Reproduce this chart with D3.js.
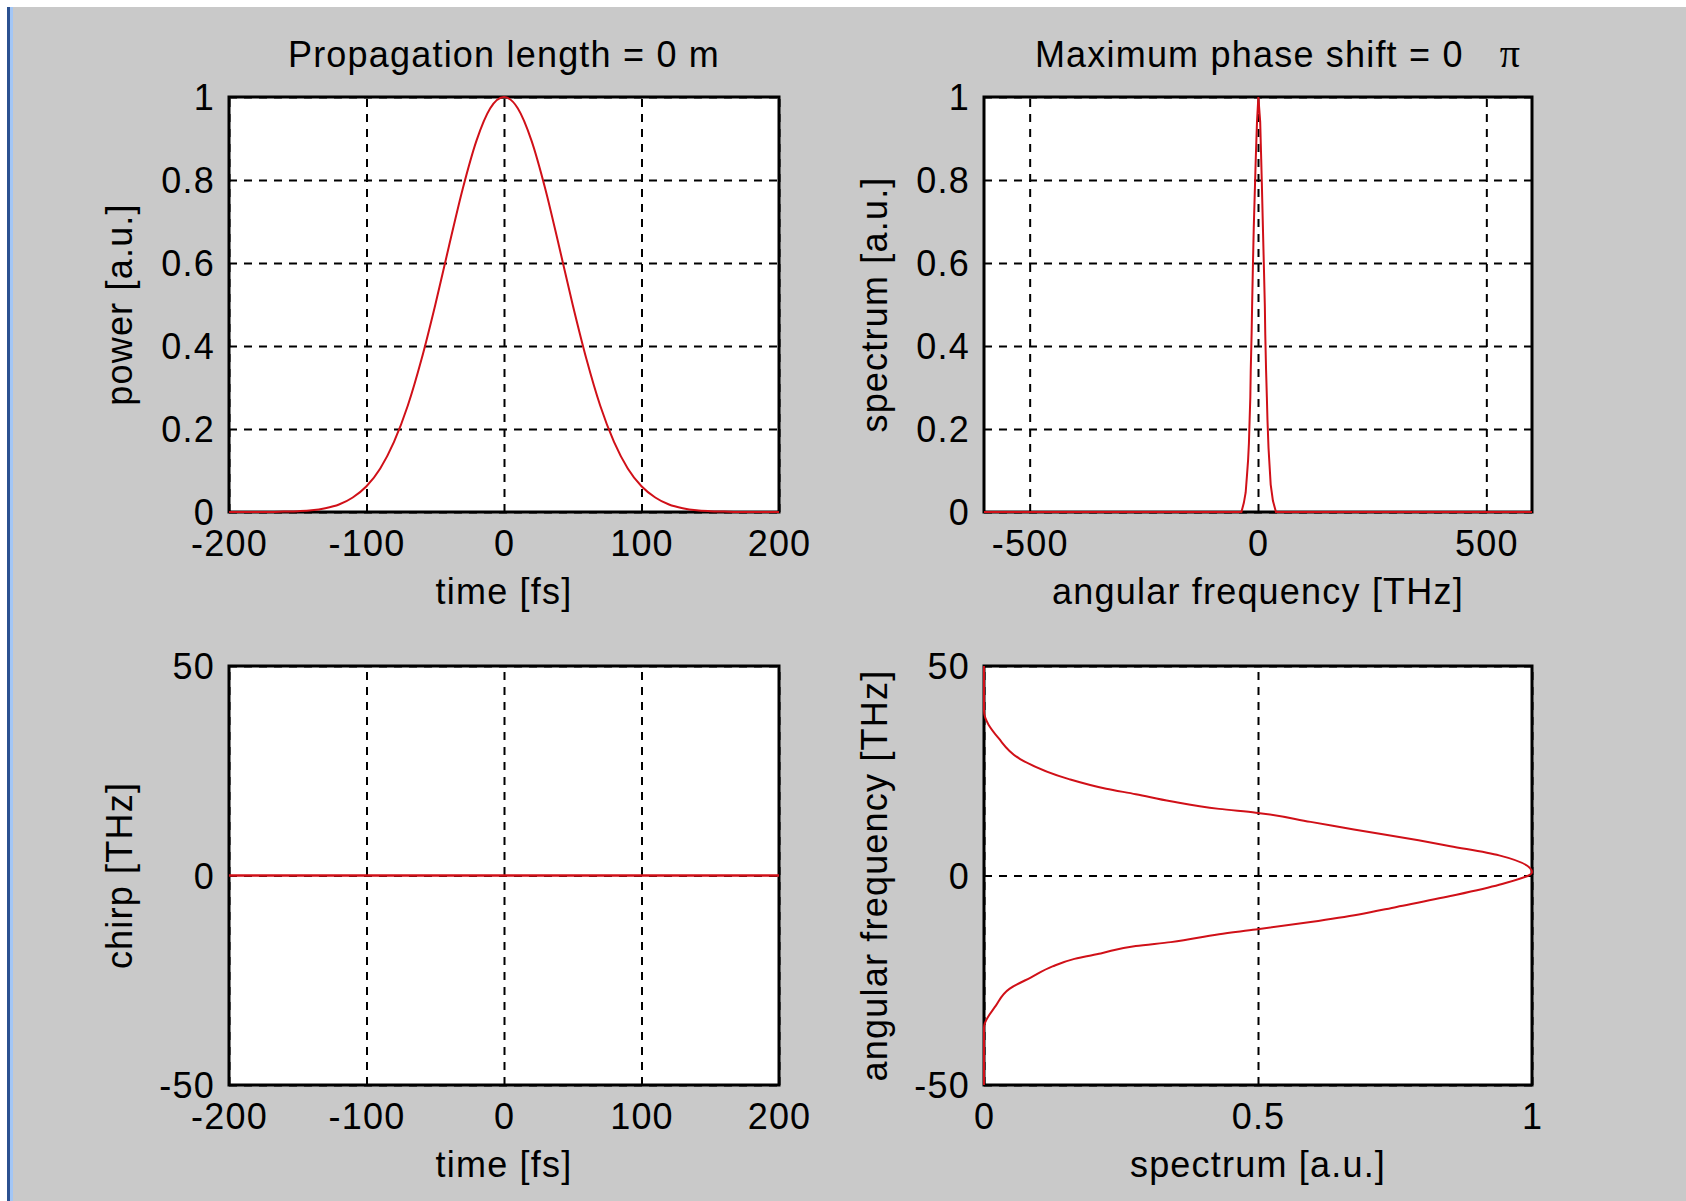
<!DOCTYPE html>
<html>
<head>
<meta charset="utf-8">
<script src="https://cdn.jsdelivr.net/npm/d3@7"></script>
<style>
  body { margin: 0; background: #fff; }
  svg text { font-family: "Liberation Sans", Arial, sans-serif; font-size: 36px; letter-spacing: 1.2px; fill: #000; }
  .grid line { stroke: #000; stroke-width: 2; stroke-dasharray: 8,7; }
  .grid path { display: none; }
  .axis path { display: none; }
</style>
</head>
<body>
<svg id="fig" width="1686" height="1201"></svg>
<script>
// pulse in time domain [fs]
const pulseTime = [-200, -190, -180, -170, -160, -150, -140, -130, -120, -110, -100, -90, -80, -70, -60, -50, -40, -30, -20, -10,
    0, 10, 20, 30, 40, 50, 60, 70, 80, 90, 100, 110, 120, 130, 140, 150, 160, 170, 180, 190, 200];
const pulsePower = [0, 0, 0, 0, 0.001, 0.002, 0.004, 0.009, 0.018, 0.035, 0.062, 0.105, 0.169, 0.256, 0.368, 0.499, 0.641, 0.779, 0.895, 0.973,
    1, 0.973, 0.895, 0.779, 0.641, 0.499, 0.368, 0.256, 0.169, 0.105, 0.062, 0.035, 0.018, 0.009, 0.004, 0.002, 0.001, 0, 0, 0, 0];

// chirp [THz] (flat)
const chirpTime = [-200, -100, 0, 100, 200];
const chirpValue = [0, 0, 0, 0, 0];

// spectrum vs angular frequency [THz]
const specOmega = [-600, -50, -36.3, -31.0, -27.0, -24.3, -21.7, -19.9, -18.6, -16.8, -15.9, -14.0, -12.9, -11.1, -9.3, -7.5, -4.9, -2.2,
    0.8, 4.8, 7.0, 8.4, 11.0, 12.8, 15.0, 15.9, 17.7, 19.4, 20.7, 23.0, 27.8, 32.7, 39.3, 50, 600];
const specValue = [0, 0, 0, 0.022, 0.047, 0.086, 0.125, 0.165, 0.213, 0.277, 0.341, 0.429, 0.496, 0.596, 0.684, 0.753, 0.851, 0.94,
    1.0, 0.94, 0.851, 0.793, 0.675, 0.596, 0.496, 0.429, 0.341, 0.277, 0.223, 0.155, 0.066, 0.027, 0, 0, 0];

// tick values
const timeTicks = [-200, -100, 0, 100, 200];
const powerTicks = [0, 0.2, 0.4, 0.6, 0.8, 1];
const freqTicks = [-500, 0, 500];
const chirpTicks = [-50, 0, 50];
const specTicks = [0, 0.5, 1];

const lineColor = "#d01018";

var svg = d3.select("#fig");

// figure background + window edge
svg.append("rect").attr("x", 13).attr("y", 7).attr("width", 1673).attr("height", 1194).attr("fill", "#c9c9c9");
svg.append("rect").attr("x", 7).attr("y", 7).attr("width", 3).attr("height", 1194).attr("fill", "#2b5190");
svg.append("rect").attr("x", 10).attr("y", 7).attr("width", 3).attr("height", 1194).attr("fill", "#a3c6f5");

const fmt = (d) => String(d);

// build one axes panel
const setupPanel = function (p) {
    var x = d3.scaleLinear().domain(p.xDom).range([p.left, p.right]);
    var y = d3.scaleLinear().domain(p.yDom).range([p.bottom, p.top]);
    var g = svg.append("g");

    g.append("rect")
        .attr("x", p.left).attr("y", p.top)
        .attr("width", p.right - p.left).attr("height", p.bottom - p.top)
        .attr("fill", "#fff");

    // dashed grid
    g.append("g").attr("class", "grid")
        .attr("transform", "translate(0," + p.bottom + ")")
        .call(d3.axisBottom(x).tickValues(p.xTicks).tickSize(-(p.bottom - p.top)).tickFormat(""));
    g.append("g").attr("class", "grid")
        .attr("transform", "translate(" + p.left + ",0)")
        .call(d3.axisLeft(y).tickValues(p.yTicks).tickSize(-(p.right - p.left)).tickFormat(""));

    // box
    g.append("rect")
        .attr("x", p.left).attr("y", p.top)
        .attr("width", p.right - p.left).attr("height", p.bottom - p.top)
        .attr("fill", "none").attr("stroke", "#000").attr("stroke-width", 3);

    // tick labels
    var ax = g.append("g").attr("class", "axis")
        .attr("transform", "translate(0," + p.bottom + ")")
        .call(d3.axisBottom(x).tickValues(p.xTicks).tickSize(0).tickPadding(18).tickFormat(fmt));
    var ay = g.append("g").attr("class", "axis")
        .attr("transform", "translate(" + p.left + ",0)")
        .call(d3.axisLeft(y).tickValues(p.yTicks).tickSize(0).tickPadding(14).tickFormat(fmt));
    [ax, ay].forEach((a) => {
        a.attr("font-size", null).attr("font-family", null);
        a.selectAll("text").attr("fill", "#000");
    });
    ay.selectAll("text").attr("dy", "0.36em");

    // axis labels
    g.append("text")
        .attr("x", (p.left + p.right) / 2).attr("y", p.bottom + 92)
        .attr("text-anchor", "middle").text(p.xLabel);
    g.append("text")
        .attr("transform", "translate(" + (p.left - 97) + "," + (p.top + p.bottom) / 2 + ") rotate(-90)")
        .attr("text-anchor", "middle").text(p.yLabel);

    return { g: g, x: x, y: y };
};

// top left: power vs time
var p1 = setupPanel({ left: 229, right: 779, top: 97, bottom: 512, xDom: [-200, 200], yDom: [0, 1],
    xTicks: timeTicks, yTicks: powerTicks, xLabel: "time [fs]", yLabel: "power [a.u.]" });
p1.g.append("path")
    .datum(pulseTime.map((t, i) => [t, pulsePower[i]]))
    .attr("fill", "none").attr("stroke", lineColor).attr("stroke-width", 2)
    .attr("d", d3.line().x((d) => p1.x(d[0])).y((d) => p1.y(d[1])).curve(d3.curveMonotoneX));
p1.g.append("text")
    .attr("x", 504).attr("y", 67).attr("text-anchor", "middle")
    .text("Propagation length = 0 m");

// top right: spectrum vs angular frequency
var p2 = setupPanel({ left: 984, right: 1532, top: 97, bottom: 512, xDom: [-600, 600], yDom: [0, 1],
    xTicks: freqTicks, yTicks: powerTicks, xLabel: "angular frequency [THz]", yLabel: "spectrum [a.u.]" });
p2.g.append("path")
    .datum(specOmega.map((w, i) => [w, specValue[i]]))
    .attr("fill", "none").attr("stroke", lineColor).attr("stroke-width", 2)
    .attr("d", d3.line().x((d) => p2.x(d[0])).y((d) => p2.y(d[1])));
var t2 = p2.g.append("text")
    .attr("x", (984 + 1532) / 2 + 20).attr("y", 67).attr("text-anchor", "middle");
t2.append("tspan").text("Maximum phase shift = 0");
t2.append("tspan").attr("dx", 36)
    .style("font-family", "'Liberation Serif', 'Times New Roman', serif").style("font-size", "40px")
    .text("π");

// bottom left: chirp vs time
var p3 = setupPanel({ left: 229, right: 779, top: 666, bottom: 1085, xDom: [-200, 200], yDom: [-50, 50],
    xTicks: timeTicks, yTicks: chirpTicks, xLabel: "time [fs]", yLabel: "chirp [THz]" });
p3.g.append("path")
    .datum(chirpTime.map((t, i) => [t, chirpValue[i]]))
    .attr("fill", "none").attr("stroke", lineColor).attr("stroke-width", 2.5)
    .attr("d", d3.line().x((d) => p3.x(d[0])).y((d) => p3.y(d[1])));

// bottom right: angular frequency vs spectrum
var p4 = setupPanel({ left: 984, right: 1532, top: 666, bottom: 1085, xDom: [0, 1], yDom: [-50, 50],
    xTicks: specTicks, yTicks: chirpTicks, xLabel: "spectrum [a.u.]", yLabel: "angular frequency [THz]" });
p4.g.append("path")
    .datum(specOmega.map((w, i) => [specValue[i], w]).filter((d) => d[1] >= -50 && d[1] <= 50))
    .attr("fill", "none").attr("stroke", lineColor).attr("stroke-width", 2)
    .attr("d", d3.line().x((d) => p4.x(d[0])).y((d) => p4.y(d[1])).curve(d3.curveMonotoneY));
</script>
</body>
</html>
